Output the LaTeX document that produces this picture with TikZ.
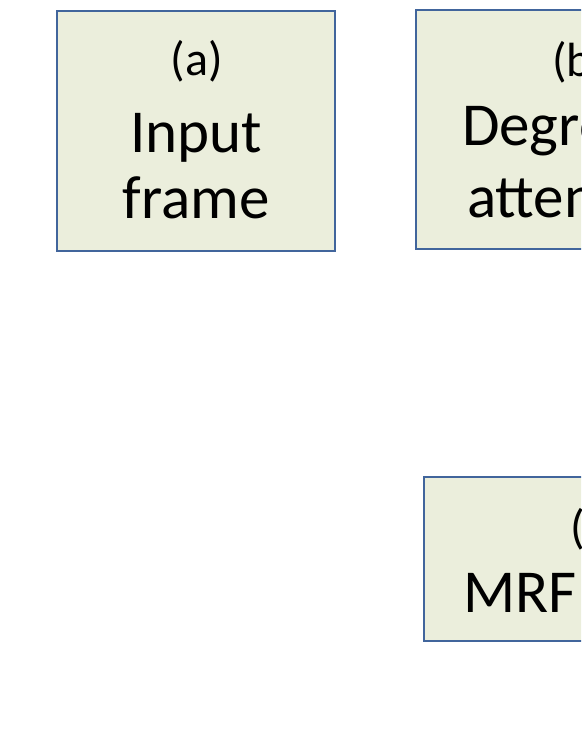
\documentclass[tikz,border=0pt]{standalone}
\usepackage{fontspec}
\setmainfont{Carlito}
\definecolor{boxfill}{HTML}{EBEEDC}
\definecolor{boxline}{HTML}{41659C}
\begin{document}
\begin{tikzpicture}[x=1pt,y=-1pt,
  blk/.style={draw=boxline, fill=boxfill, line width=2.6pt, inner sep=0pt, outer sep=0pt, anchor=north west},
  big/.style={font=\fontsize{61}{61}\selectfont, inner sep=0pt, outer sep=0pt},
  tag/.style={font=\fontsize{48}{48}\selectfont, inner sep=0pt, outer sep=0pt}]
\useasboundingbox (0,0) rectangle (581,752);
\clip (0,0) rectangle (581,752);
\fill[white] (0,0) rectangle (581,752);
% boxes
\node[blk, minimum width=278pt, minimum height=240pt] (a) at (57,11) {};
\node[blk, minimum width=334pt, minimum height=239pt] (b) at (416,10) {};
\node[blk, minimum width=350pt, minimum height=164pt] (c) at (424,477) {};
% box (a) text
\node[tag, anchor=base] (a1) at (197,76) {(a)};
\node[big, anchor=base] (a2) at (196,152) {Input};
\node[big, anchor=base] (a3) at (196,218) {frame};
% box (b) text
\node[tag, anchor=base west] (b1) at (552,77) {(b)};
\node[big, anchor=base west] (b2) at (462,145) {Degree of};
\node[big, anchor=base west] (b3) at (467,217) {attention};
% box (c) text
\node[tag, anchor=base west] (c1) at (570,543) {(c)};
\node[big, anchor=base west] (c2) at (463,612) {MRF};
\end{tikzpicture}
\end{document}
